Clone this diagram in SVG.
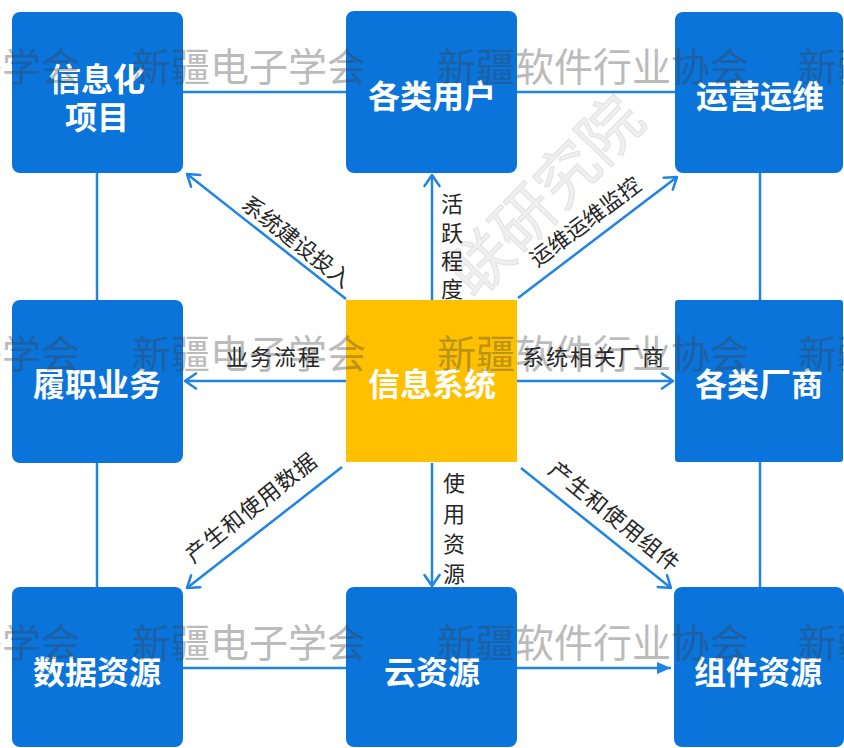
<svg xmlns="http://www.w3.org/2000/svg" width="844" height="748" viewBox="0 0 844 748">
<style>
.box{fill:#0A74DA}
.core{fill:#FFC000}
.bt{font-family:"Noto Sans CJK SC","Noto Sans",sans-serif;font-size:32px;font-weight:700;fill:#ffffff;text-anchor:middle;dominant-baseline:central}
.lb{font-family:"Noto Sans CJK SC","Noto Sans",sans-serif;font-size:22px;fill:#262626;text-anchor:middle;dominant-baseline:central}
.ln{stroke:#1F84E4;stroke-width:2.5;fill:none}
.wm{font-family:"Noto Sans CJK SC","Noto Sans",sans-serif;font-size:39px;fill:#404040;opacity:0.35;dominant-baseline:central}
.wd{font-family:"Noto Sans CJK SC","Noto Sans",sans-serif;font-size:62px;fill:#efefef;stroke:#e2e2e2;stroke-width:1;text-anchor:middle;dominant-baseline:central}
</style>
<defs>
<marker id="open" markerUnits="userSpaceOnUse" markerWidth="18" markerHeight="18" viewBox="0 0 18 18" refX="15" refY="9" orient="auto">
<path d="M4,1.5 L15,9 L4,16.5" fill="none" stroke="#1F84E4" stroke-width="2.5" stroke-linecap="round" stroke-linejoin="round"/>
</marker>
<marker id="solid" markerUnits="userSpaceOnUse" markerWidth="16" markerHeight="14" viewBox="0 0 16 14" refX="15" refY="7" orient="auto">
<path d="M1,1 L15,7 L1,13 Z" fill="#1F84E4"/>
</marker>
</defs>
<rect width="844" height="748" fill="#ffffff"/>
<text class="wd" transform="translate(542,193) rotate(-46)">联研究院</text>
<g id="connectors">
<line class="ln" x1="183" y1="92" x2="346" y2="92"/>
<line class="ln" x1="517" y1="92" x2="675" y2="92"/>
<line class="ln" x1="97" y1="173" x2="97" y2="300"/>
<line class="ln" x1="97" y1="463" x2="97" y2="587"/>
<line class="ln" x1="760" y1="173" x2="760" y2="300"/>
<line class="ln" x1="760" y1="462" x2="760" y2="587"/>
<line class="ln" x1="183" y1="668" x2="346" y2="668"/>
<line class="ln" x1="517" y1="668" x2="671" y2="668" marker-end="url(#solid)"/>
<line class="ln" x1="346" y1="299" x2="187" y2="174" marker-end="url(#open)"/>
<line class="ln" x1="432" y1="300" x2="432" y2="175" marker-end="url(#open)"/>
<line class="ln" x1="518" y1="298" x2="677" y2="177" marker-end="url(#open)"/>
<line class="ln" x1="346" y1="381" x2="185" y2="381" marker-end="url(#open)"/>
<line class="ln" x1="517" y1="381" x2="673" y2="381" marker-end="url(#open)"/>
<line class="ln" x1="342" y1="467" x2="187" y2="588" marker-end="url(#open)"/>
<line class="ln" x1="432" y1="463" x2="432" y2="586" marker-end="url(#open)"/>
<line class="ln" x1="521" y1="468" x2="671" y2="588" marker-end="url(#open)"/>
<text class="lb" transform="translate(298,240) rotate(38.5)">系统建设投入</text>
<text class="lb" transform="translate(584,220) rotate(-37)">运维运维监控</text>
<text class="lb" transform="translate(250,506) rotate(-38.5)" letter-spacing="1">产生和使用数据</text>
<text class="lb" transform="translate(616,515) rotate(38.8)" letter-spacing="1">产生和使用组件</text>
<text class="lb" x="274" y="355" letter-spacing="2">业务流程</text>
<text class="lb" x="594" y="355" letter-spacing="2">系统相关厂商</text>
<text class="lb" x="452"><tspan x="452" y="202">活</tspan><tspan x="452" y="231">跃</tspan><tspan x="452" y="259">程</tspan><tspan x="452" y="287">度</tspan></text>
<text class="lb" x="454"><tspan x="454" y="481">使</tspan><tspan x="454" y="512">用</tspan><tspan x="454" y="542">资</tspan><tspan x="454" y="572">源</tspan></text>
</g>
<g id="n-xinxihua"><rect class="box" x="12" y="12" width="171" height="161" rx="8"/><text class="bt" x="97" y="77">信息化</text><text class="bt" x="97" y="115">项目</text></g>
<g id="n-yonghu"><rect class="box" x="346" y="11" width="171" height="162" rx="8"/><text class="bt" x="432" y="94">各类用户</text></g>
<g id="n-yunwei"><rect class="box" x="675" y="12" width="168" height="161" rx="8"/><text class="bt" x="760" y="94">运营运维</text></g>
<g id="n-lvzhi"><rect class="box" x="12" y="300" width="171" height="163" rx="8"/><text class="bt" x="97" y="382">履职业务</text></g>
<g id="n-xitong"><rect class="core" x="346" y="300" width="171" height="162"/><text class="bt" x="432" y="382">信息系统</text></g>
<g id="n-changshang"><rect class="box" x="675" y="300" width="168" height="162" rx="3"/><text class="bt" x="759" y="382">各类厂商</text></g>
<g id="n-shuju"><rect class="box" x="12" y="587" width="171" height="160" rx="8"/><text class="bt" x="97" y="670">数据资源</text></g>
<g id="n-yun"><rect class="box" x="346" y="587" width="171" height="160" rx="8"/><text class="bt" x="432" y="670">云资源</text></g>
<g id="n-zujian"><rect class="box" x="674" y="587" width="170" height="160" rx="8"/><text class="bt" x="758" y="670">组件资源</text></g>
<g id="watermark">
<text class="wm" x="-154" y="64">新疆电子学会</text><text class="wm" x="132" y="64">新疆电子学会</text><text class="wm" x="437" y="64">新疆软件行业协会</text><text class="wm" x="798" y="64">新疆</text>
<text class="wm" x="-154" y="351">新疆电子学会</text><text class="wm" x="132" y="351">新疆电子学会</text><text class="wm" x="437" y="351">新疆软件行业协会</text><text class="wm" x="798" y="351">新疆</text>
<text class="wm" x="-154" y="640">新疆电子学会</text><text class="wm" x="132" y="640">新疆电子学会</text><text class="wm" x="437" y="640">新疆软件行业协会</text><text class="wm" x="798" y="640">新疆</text>
</g>
</svg>
